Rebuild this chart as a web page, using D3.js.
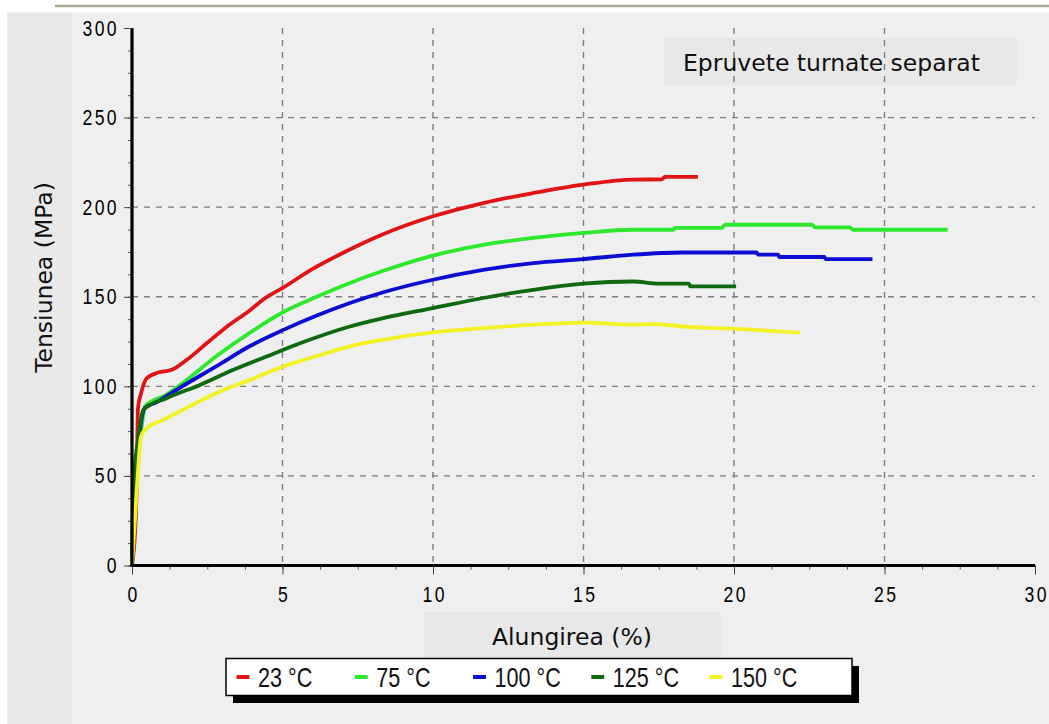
<!DOCTYPE html>
<html>
<head>
<meta charset="utf-8">
<script src="https://cdn.jsdelivr.net/npm/d3@7"></script>
<style>
html,body{margin:0;padding:0;background:#ffffff;}
svg{display:block;}
</style>
</head>
<body>
<svg id="chart" width="1049" height="724"></svg>
<script>
// ---- data ----
const seriesNames = ["23 °C", "75 °C", "100 °C", "125 °C", "150 °C"];
const seriesColors = ["#e01414", "#2ee82e", "#0c0cd2", "#0f6a0f", "#f2f224"];

const strain23 = [0,0.12,0.15,0.2,0.3,0.49,0.87,1.32,1.82,2.48,3.15,3.92,4.36,5.06,6.0,7.13,8.3,10.0,11.67,13.33,15.0,16.65,17.6,17.7,18.8];
const stress23 = [0,25,40,88,96,104.5,107.7,109.2,114.8,124,133.3,142.5,148.5,155.5,165.5,175.5,184.6,194.9,202.3,207.9,212.6,215.4,215.5,216.9,216.9];

const strain75 = [0,0.1,0.25,0.32,0.43,1.15,1.7,2.81,3.92,5.03,6.14,7.24,8.35,10,11.67,13.33,15,16.65,17.98,18.05,19.6,19.7,22.6,22.7,23.85,23.95,27.1];
const stress75 = [0,40,70,77.5,88.8,95.4,102,116.9,130,141.5,150,157.7,164.5,173,179,182.8,185.6,187.4,187.4,188.4,188.4,190.2,190.2,188.7,188.7,187.4,187.4];

const strain100 = [0,0.1,0.3,0.43,0.8,1.49,2.81,3.92,5.03,6.14,7.24,8.35,10,11.67,13.33,15,16.65,18.3,20.75,20.8,21.47,21.5,23,23.05,24.6];
const stress100 = [0,40,80,88,91,98.2,111.3,122.5,131.5,139.5,146.5,152.5,159.5,165,168.8,171,173.5,174.7,174.7,173.5,173.5,172.2,172.2,171,171];

const strain125 = [0,0.05,0.2,0.38,1.15,2.26,3.37,4.47,5.58,7.24,8.35,10,11.67,13.33,15,16.65,17.5,18.5,18.55,20.07];
const stress125 = [0,45,70,86.9,93.4,100.8,109.2,116.6,124,133.4,138.1,143.7,149.3,153.9,157.3,158.5,157.3,157.3,155.8,155.8];

const strain150 = [0,0.15,0.3,0.45,1.0,1.7,2.81,3.92,5.03,6.14,7.24,8.35,10,11.67,13.33,15,16.65,17.3,18.3,20.6,22.2];
const stress150 = [0,40,72,76,81,87,96.3,103.6,111.1,116.9,122.3,126,130.1,132.5,134.4,135.6,134.4,134.7,133.4,131.6,130];

const xTicks = [0,5,10,15,20,25,30];
const yTicks = [0,50,100,150,200,250,300];
const xTitle = "Alungirea (%)";
const yTitle = "Tensiunea (MPa)";
const noteText = "Epruvete turnate separat";

// ---- build ----
const strains = [strain23, strain75, strain100, strain125, strain150];
const stresses = [stress23, stress75, stress100, stress125, stress150];
const series = seriesNames.map((name, i) => ({
  name, color: seriesColors[i],
  points: strains[i].map((x, j) => [x, stresses[i][j]])
}));

const svg = d3.select("#chart");
const L = 132, R = 1035, T = 28, B = 565.5;

const x = d3.scaleLinear().domain([0, 30]).range([L, R]);
const y = d3.scaleLinear().domain([0, 300]).range([B, T]);

// backgrounds
svg.append("line").attr("x1", 55).attr("x2", 1049).attr("y1", 6).attr("y2", 6)
  .attr("stroke", "#aaa690").attr("stroke-width", 2.5);
svg.append("rect").attr("x", 7).attr("y", 12.5).attr("width", 1042).attr("height", 712).attr("fill", "#efefef");
svg.append("rect").attr("x", 7).attr("y", 12.5).attr("width", 65).attr("height", 712).attr("fill", "#e9e9e9");

// note box
svg.append("rect").attr("x", 664).attr("y", 37).attr("width", 353).attr("height", 48).attr("fill", "#e8e8e8");

// grid
const gridG = svg.append("g");
gridG.selectAll("line.v").data(xTicks.filter(d => d > 0 && d < 30)).enter().append("line")
  .attr("x1", d => x(d)).attr("x2", d => x(d)).attr("y1", T).attr("y2", B)
  .attr("stroke", "#7f7f7f").attr("stroke-width", 1.4).attr("stroke-dasharray", "6,6");
gridG.selectAll("line.h").data(yTicks.filter(d => d > 0 && d < 300)).enter().append("line")
  .attr("y1", d => y(d)).attr("y2", d => y(d)).attr("x1", L).attr("x2", R)
  .attr("stroke", "#7f7f7f").attr("stroke-width", 1.4).attr("stroke-dasharray", "6,6");

// note text
svg.append("text").attr("x", 683).attr("y", 71).text(noteText)
  .attr("font-family", "DejaVu Sans").attr("font-size", 23.5).attr("fill", "#111");

// lines
const line = d3.line().x(d => x(d[0])).y(d => y(d[1])).curve(d3.curveMonotoneX);
svg.append("g").selectAll("path").data(series).enter().append("path")
  .attr("d", d => line(d.points))
  .attr("fill", "none").attr("stroke", d => d.color)
  .attr("stroke-width", 3.8).attr("stroke-linejoin", "round").attr("stroke-linecap", "butt");

// minor ticks
const minorX = d3.range(0, 30.01, 1.25);
const minorY = d3.range(0, 300.01, 12.5);
svg.append("g").attr("transform", `translate(0,${B})`)
  .call(d3.axisBottom(x).tickValues(minorX).tickSize(4).tickFormat(""))
  .call(g => g.select(".domain").remove())
  .selectAll("line").attr("stroke", "#555");
svg.append("g").attr("transform", `translate(${L},0)`)
  .call(d3.axisLeft(y).tickValues(minorY).tickSize(4).tickFormat(""))
  .call(g => g.select(".domain").remove())
  .selectAll("line").attr("stroke", "#555");

// major axes
const tickFont = "'Liberation Sans', Arial, sans-serif";
const SX = 0.8;
const xAxisG = svg.append("g").attr("transform", `translate(0,${B})`)
  .call(d3.axisBottom(x).tickValues(xTicks).tickSize(9).tickPadding(12).tickSizeOuter(0));
const yAxisG = svg.append("g").attr("transform", `translate(${L},0)`)
  .call(d3.axisLeft(y).tickValues(yTicks).tickSize(8).tickPadding(5).tickSizeOuter(0));
[xAxisG, yAxisG].forEach(g => {
  g.select(".domain").attr("stroke", "#000").attr("stroke-width", 3.2);
  g.selectAll(".tick line").attr("stroke", "#444").attr("stroke-width", 1);
  g.selectAll(".tick text").attr("font-family", tickFont).attr("font-size", 22)
    .attr("letter-spacing", 3).attr("fill", "#000");
});
// condense the tick labels horizontally
yAxisG.selectAll(".tick text").each(function() {
  const t = d3.select(this);
  const ax = +t.attr("x");
  t.attr("x", 0).attr("transform", `translate(${ax},0) scale(${SX},1)`);
});
xAxisG.selectAll(".tick text").each(function() {
  const t = d3.select(this);
  t.attr("transform", `translate(1.2,0) scale(${SX},1)`);
});
xAxisG.select(".domain").attr("d", `M${L - 1.5},0H${R}`);
yAxisG.select(".domain").attr("d", `M0,${T}V${B + 1.5}`);

// y title
svg.append("text").attr("transform", `translate(52,277.5) rotate(-90)`)
  .attr("text-anchor", "middle").text(yTitle)
  .attr("font-family", "DejaVu Sans").attr("font-size", 23.5).attr("fill", "#111");

// x title box + text
svg.append("rect").attr("x", 424).attr("y", 612).attr("width", 297).attr("height", 48).attr("fill", "#e8e8e8");
svg.append("text").attr("x", 572).attr("y", 645).attr("text-anchor", "middle").text(xTitle)
  .attr("font-family", "DejaVu Sans").attr("font-size", 23.5).attr("fill", "#111");

// legend
const lg = svg.append("g");
lg.append("rect").attr("x", 233).attr("y", 666).attr("width", 626).attr("height", 37).attr("fill", "#000");
lg.append("rect").attr("x", 226).attr("y", 658.5).attr("width", 626).attr("height", 37)
  .attr("fill", "#fff").attr("stroke", "#000").attr("stroke-width", 1.5);
const lx = d3.scaleBand().domain(seriesNames).range([236.5, 236.5 + 5 * 118.25]);
const items = lg.selectAll("g.item").data(series).enter().append("g")
  .attr("transform", d => `translate(${lx(d.name)},0)`);
items.append("line").attr("x1", 0).attr("x2", 13).attr("y1", 677).attr("y2", 677)
  .attr("stroke", d => d.color).attr("stroke-width", 4);
items.append("text").attr("transform", `translate(21.5,687) scale(${SX},1)`).text(d => d.name)
  .attr("font-family", tickFont).attr("font-size", 27).attr("fill", "#111");
</script>
</body>
</html>
